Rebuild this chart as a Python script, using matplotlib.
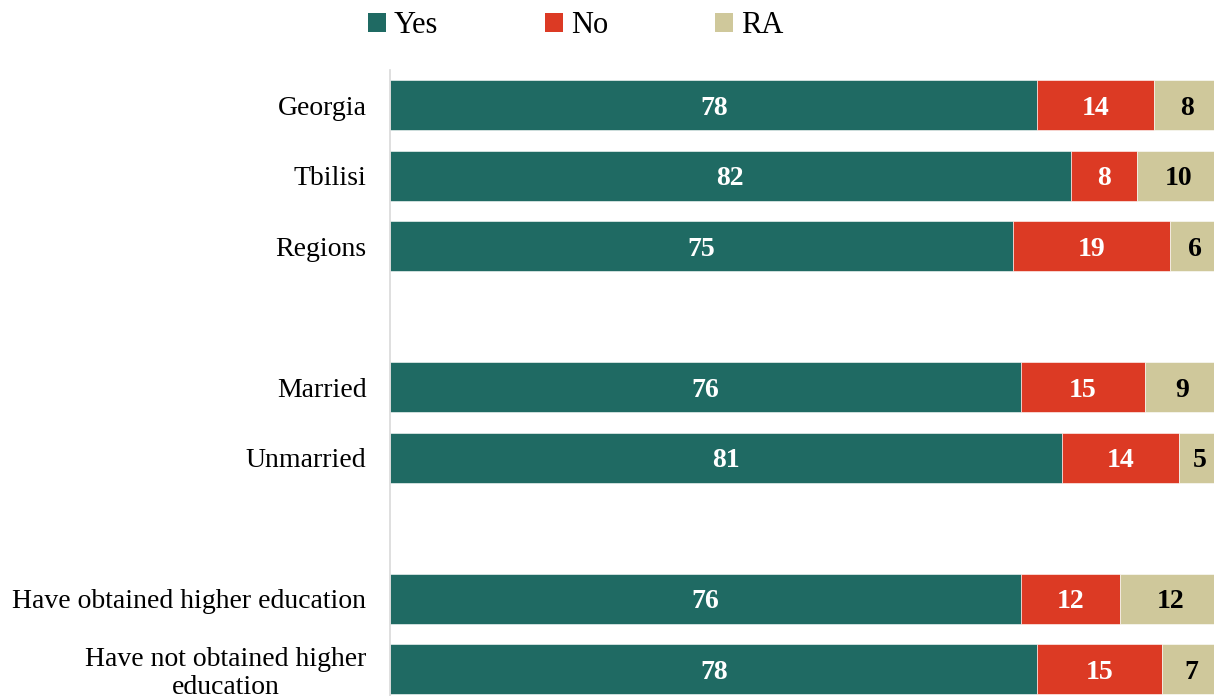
import numpy as np
import matplotlib.pyplot as plt
from matplotlib.patches import Patch

plt.rcParams["font.family"] = ["Liberation Serif", "DejaVu Serif"]

# categories (empty strings are spacer rows between groups)
categories = ["Georgia", "Tbilisi", "Regions", "",
              "Married", "Unmarried", "",
              "Have obtained higher education",
              "Have not obtained higher\neducation"]
yes = [78, 82, 75, None, 76, 81, None, 76, 78]
no = [14, 8, 19, None, 15, 14, None, 12, 15]
ra = [8, 10, 6, None, 9, 5, None, 12, 7]

series = ["Yes", "No", "RA"]
colors = ["#1F6A63", "#DC3A24", "#CFC89B"]
text_colors = ["white", "white", "black"]

fig = plt.figure(figsize=(12.14, 6.96), dpi=100)
ax = fig.add_axes([390 / 1214, -0.0119, 830 / 1214, 634.5 / 696])

y = np.arange(len(categories))
left = np.zeros(len(categories))
for name, vals, col, tcol in zip(series, [yes, no, ra], colors, text_colors):
    v = np.array([np.nan if x is None else x for x in vals], dtype=float)
    ax.barh(y, np.nan_to_num(v), left=left, height=0.71, color=col,
            edgecolor="white", linewidth=0.4)
    for yi, (l, w) in enumerate(zip(left, v)):
        if not np.isnan(w):
            # digits sit on the baseline, nudge down so they look centred
            ax.annotate(f"{int(w)}", (l + w / 2, yi), xytext=(0, -7),
                        textcoords="offset points", ha="center",
                        va="baseline", color=tcol, fontsize=20,
                        fontweight="bold")
    left = left + np.nan_to_num(v)

ax.set_xlim(0, 100)
ax.set_ylim(len(categories) - 0.5, -0.5)
ax.set_yticks(y)
ax.set_yticklabels(categories, fontsize=20, linespacing=1.15,
                   multialignment="center")
ax.tick_params(axis="y", length=0, pad=17)
ax.set_xticks([])
for s in ["top", "right", "bottom"]:
    ax.spines[s].set_visible(False)
ax.spines["left"].set_color("#D9D9D9")
ax.spines["left"].set_linewidth(1.2)

handles = [Patch(facecolor=c, label=s) for s, c in zip(series, colors)]
fig.legend(handles=handles, loc="upper center", bbox_to_anchor=(0.474, 1.023),
           ncol=3, frameon=False, fontsize=22, handlelength=0.6,
           handleheight=0.6, handletextpad=0.25, columnspacing=3.5)

fig.savefig("out.png", dpi=100)
